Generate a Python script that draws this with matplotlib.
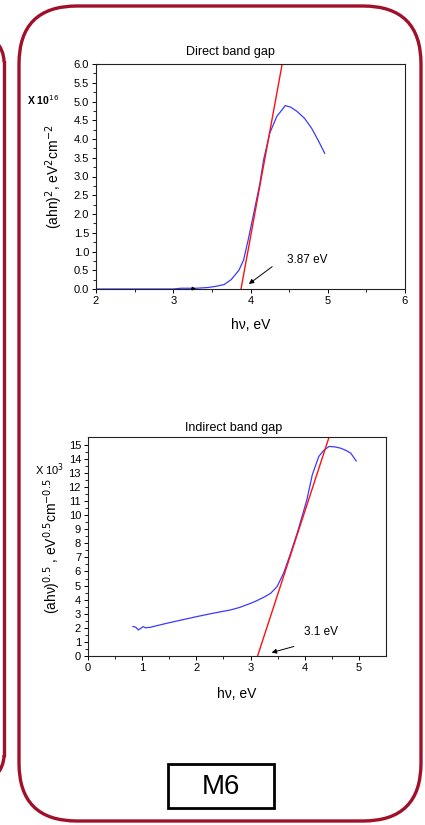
import matplotlib
matplotlib.use("Agg")
import matplotlib.pyplot as plt
from matplotlib.patches import FancyBboxPatch, Rectangle, Arc
import numpy as np

plt.rcParams['font.family'] = ['Liberation Sans', 'DejaVu Sans']

# Direct band gap data
direct_x = [2.0, 3.0, 3.1, 3.3, 3.45, 3.55, 3.66, 3.75, 3.85, 3.91, 3.97, 4.05, 4.12, 4.17, 4.25, 4.34, 4.45, 4.52, 4.6, 4.7, 4.79, 4.88, 4.96]
direct_y = [0.0, 0.0, 0.02, 0.02, 0.04, 0.07, 0.12, 0.25, 0.5, 0.77, 1.31, 2.1, 2.8, 3.45, 4.16, 4.6, 4.89, 4.85, 4.74, 4.55, 4.29, 3.95, 3.62]
direct_fit_x = [3.877, 4.41]
direct_fit_y = [0.0, 6.0]

# Indirect band gap data
indirect_x = [0.83, 0.88, 0.93, 0.98, 1.02, 1.06, 1.15, 1.45, 2.01, 2.3, 2.63, 2.8, 3.0, 3.1, 3.25, 3.37, 3.49, 3.61, 3.73, 3.86, 3.95, 4.04, 4.14, 4.26, 4.35, 4.45, 4.55, 4.66, 4.76, 4.85, 4.95]
indirect_y = [2.09, 2.05, 1.85, 1.98, 2.09, 2.0, 2.04, 2.32, 2.8, 3.03, 3.27, 3.45, 3.74, 3.9, 4.18, 4.45, 4.93, 5.88, 7.2, 8.72, 9.9, 11.1, 12.87, 14.17, 14.6, 14.88, 14.85, 14.76, 14.6, 14.4, 13.85]
indirect_fit_x = [3.13, 4.45]
indirect_fit_y = [0.0, 15.55]

BLUE = '#3a3aff'
RED = '#ff1010'
BORDER = '#a0102a'

W, H = 425.0, 825.0
fig = plt.figure(figsize=(4.25, 8.25), dpi=100)

# Overlay axes in pixel coordinates for decorations
deco = fig.add_axes([0, 0, 1, 1], zorder=-1)
deco.set_xlim(0, W)
deco.set_ylim(H, 0)
deco.axis('off')
deco.add_patch(FancyBboxPatch((19, 6), 402, 815,
                              boxstyle="round,pad=0,rounding_size=58",
                              fill=False, edgecolor=BORDER, linewidth=2.4))
# partial neighbour panel on the left (its right edge with rounded corners)
deco.plot([4, 4], [62, 755], color=BORDER, linewidth=2.4)
deco.add_patch(Arc((-26, 62), 60, 60, theta1=270, theta2=360, edgecolor=BORDER, linewidth=2.4))
deco.add_patch(Arc((-26, 755), 60, 60, theta1=0, theta2=90, edgecolor=BORDER, linewidth=2.4))
# M6 box
deco.add_patch(Rectangle((168, 764), 106, 44, fill=False, edgecolor='black', linewidth=2.0))
deco.text(221, 787, "M6", fontsize=20, ha='center', va='center')

# ---------- Direct band gap ----------
ax1 = fig.add_axes([96 / W, 1 - 289 / H, (405 - 96) / W, (289 - 64) / H])
ax1.plot(direct_x, direct_y, color=BLUE, linewidth=0.9)
ax1.plot(direct_fit_x, direct_fit_y, color=RED, linewidth=1.0)
ax1.set_xlim(2, 6)
ax1.set_ylim(0, 6.0)
ax1.set_xticks([2, 3, 4, 5, 6])
ax1.set_xticks(np.arange(2.5, 6, 1.0), minor=True)
ax1.set_yticks(np.arange(0, 6.01, 0.5))
ax1.set_yticklabels([f"{v:.1f}" for v in np.arange(0, 6.01, 0.5)])
ax1.set_yticks(np.arange(0.25, 6, 0.5), minor=True)
ax1.set_xlabel("h\u03bd, eV", fontsize=10, labelpad=9)
ax1.set_ylabel("(ahn)$^2$, eV$^2$cm$^{-2}$", fontsize=10, labelpad=6)
ax1.annotate("", xy=(3.95, 0.09), xytext=(4.31, 0.64),
             arrowprops=dict(arrowstyle="-|>", color='black', lw=0.7, mutation_scale=7))
ax1.text(4.47, 0.77, "3.87 eV", fontsize=8.5, va='center', ha='left')
ax1.annotate("", xy=(3.33, 0.01), xytext=(3.2, 0.01),
             arrowprops=dict(arrowstyle="-|>", color='black', lw=0.7, mutation_scale=5))
deco.text(230, 52, "Direct band gap", fontsize=9, ha='center', va='center')
deco.text(27, 100, "X 10$^{16}$", fontsize=7.5, fontweight='bold', va='center', ha='left')

# ---------- Indirect band gap ----------
ax2 = fig.add_axes([88 / W, 1 - 656 / H, (386 - 88) / W, (656 - 437) / H])
ax2.plot(indirect_x, indirect_y, color=BLUE, linewidth=0.9)
ax2.plot(indirect_fit_x, indirect_fit_y, color=RED, linewidth=1.0)
ax2.set_xlim(0, 5.5)
ax2.set_ylim(0, 15.55)
ax2.set_xticks([0, 1, 2, 3, 4, 5])
ax2.set_xticks(np.arange(0.5, 5.5, 1.0), minor=True)
ax2.set_yticks(np.arange(0, 16, 1))
ax2.set_yticks(np.arange(0.5, 15.5, 1.0), minor=True)
ax2.set_xlabel("h\u03bd, eV", fontsize=10, labelpad=10)
ax2.set_ylabel("(ah\u03bd)$^{0.5}$ , eV$^{0.5}$cm$^{-0.5}$", fontsize=10, labelpad=4)
ax2.annotate("", xy=(3.34, 0.19), xytext=(3.85, 0.73),
             arrowprops=dict(arrowstyle="-|>", color='black', lw=0.7, mutation_scale=7))
ax2.text(3.98, 1.68, "3.1 eV", fontsize=8.5, va='center', ha='left')
deco.text(234, 428, "Indirect band gap", fontsize=9, ha='center', va='center')
deco.text(35, 470, "X 10$^3$", fontsize=8, va='center', ha='left')

for ax in (ax1, ax2):
    for s in ax.spines.values():
        s.set_linewidth(0.8)
        s.set_color('#222222')
    ax.tick_params(axis='both', which='major', direction='out', length=3, width=0.7,
                   labelsize=8, top=False, right=False, pad=2)
    ax.tick_params(axis='both', which='minor', direction='out', length=2, width=0.6,
                   top=False, right=False)

fig.savefig("out.png", dpi=100)
